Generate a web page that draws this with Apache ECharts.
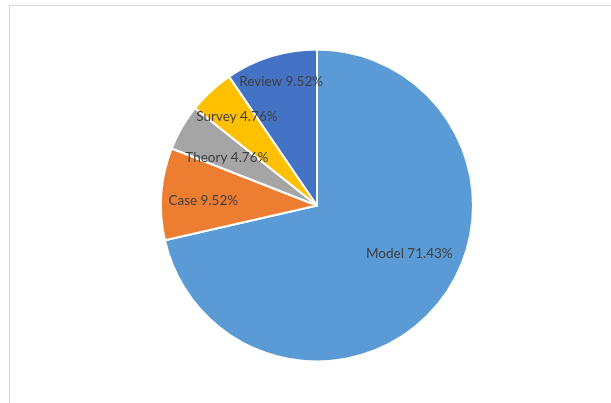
<!DOCTYPE html>
<html><head><meta charset="utf-8">
<script src="https://cdn.jsdelivr.net/npm/echarts@6/dist/echarts.min.js"></script>
<style>
html,body{margin:0;padding:0;background:#fff;}
#frame{position:absolute;left:9px;top:5px;width:800px;height:600px;border:1px solid #d9d9d9;box-sizing:border-box;}
#c{position:absolute;left:0;top:0;width:611px;height:403px;}
</style></head>
<body>
<div id="frame"></div>
<div id="c"></div>
<script>
const categories = ['Model', 'Case', 'Theory', 'Survey', 'Review'];
const values = [15, 2, 1, 1, 2];
const colors = ['#5B9BD5', '#ED7D31', '#A5A5A5', '#FFC000', '#4472C4'];
const labelShift = [[29, -2], [-33, 1], [-20, -7], [-25, -29], [-12, -46]];
const total = values.reduce((a, b) => a + b, 0);

const chart = echarts.init(document.getElementById('c'), null, {renderer: 'canvas'});
chart.setOption({
  backgroundColor: 'transparent',
  animation: false,
  series: [{
    type: 'pie',
    center: [317, 205.5],
    radius: [0, 156],
    startAngle: 90,
    clockwise: true,
    data: categories.map((n, i) => ({name: n, value: values[i], itemStyle: {color: colors[i]}})),
    itemStyle: {borderColor: '#fff', borderWidth: 2},
    label: {
      show: true,
      position: 'inside',
      formatter: p => p.name + ' ' + (p.value / total * 100).toFixed(2) + '%',
      color: '#404040',
      fontFamily: 'Lato',
      fontSize: 13.5
    },
    labelLine: {show: false},
    labelLayout: p => ({dx: labelShift[p.dataIndex][0], dy: labelShift[p.dataIndex][1]}),
    emphasis: {disabled: true}
  }]
});
</script>
</body></html>
